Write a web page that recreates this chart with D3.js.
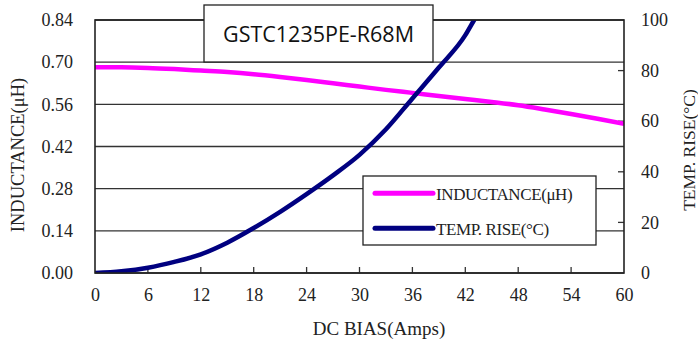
<!DOCTYPE html>
<html>
<head>
<meta charset="utf-8">
<script src="https://cdn.jsdelivr.net/npm/d3@7/dist/d3.min.js"></script>
<style>
  html, body { margin: 0; padding: 0; background: #fff; }
  svg { display: block; }
</style>
</head>
<body>
<svg id="chart" width="698" height="347"></svg>
<script>
// ---- data ----
const title = "GSTC1235PE-R68M";
const xTicks = [0, 6, 12, 18, 24, 30, 36, 42, 48, 54, 60];
const leftTicks = [0.00, 0.14, 0.28, 0.42, 0.56, 0.70, 0.84];
const rightTicks = [0, 20, 40, 60, 80, 100];
const currentA = [0, 3, 6, 9, 12, 15, 18, 21, 24, 27, 30, 33, 36, 39, 42, 45, 48, 51, 54, 57, 60];
const inductance = [0.683, 0.683, 0.681, 0.677, 0.672, 0.667, 0.660, 0.651, 0.641, 0.630, 0.619, 0.608, 0.598, 0.588, 0.578, 0.568, 0.557, 0.543, 0.528, 0.512, 0.495];
const tempCurrent = [0, 3, 6, 9, 12, 15, 18, 21, 24, 27, 30, 33, 36, 39, 42, 43, 44];
const tempRise = [0, 0.7, 2.1, 4.4, 7.4, 12.0, 17.8, 24.2, 31.2, 38.6, 46.7, 56.8, 69.0, 81.2, 94.0, 100, 106];
const seriesNames = ["INDUCTANCE(\u03bcH)", "TEMP. RISE(\u00b0C)"];
const seriesColors = ["#ff00ff", "#000080"];

// ---- layout ----
const L = 95, R = 624, T = 20, B = 273;
const svg = d3.select("#chart");
const x = d3.scaleLinear().domain([0, 60]).range([L, R]);
const yL = d3.scaleLinear().domain([0, 0.84]).range([B, T]);
const yR = d3.scaleLinear().domain([0, 100]).range([B, T]);

const serif = "'Liberation Serif', 'Times New Roman', serif";
const textColor = "#222";

// gridlines
svg.append("g").selectAll("line").data(leftTicks).join("line")
  .attr("x1", L).attr("x2", R)
  .attr("y1", d => yL(d)).attr("y2", d => yL(d))
  .attr("stroke", "#333").attr("stroke-width", 1.3);

// bottom inward ticks
svg.append("g").selectAll("line").data(xTicks.slice(1, -1)).join("line")
  .attr("x1", d => x(d)).attr("x2", d => x(d))
  .attr("y1", B).attr("y2", B - 6)
  .attr("stroke", "#333").attr("stroke-width", 1.3);

// right inward ticks
svg.append("g").selectAll("line").data(rightTicks.slice(1, -1)).join("line")
  .attr("x1", R).attr("x2", R - 6)
  .attr("y1", d => yR(d)).attr("y2", d => yR(d))
  .attr("stroke", "#333").attr("stroke-width", 1.3);

// clip
svg.append("clipPath").attr("id", "plotClip").append("rect")
  .attr("x", L).attr("y", T).attr("width", R - L).attr("height", B - T);

const plot = svg.append("g").attr("clip-path", "url(#plotClip)");

const indLine = d3.line().x((d, i) => x(currentA[i])).y(d => yL(d)).curve(d3.curveMonotoneX);
const tempLine = d3.line().x((d, i) => x(tempCurrent[i])).y(d => yR(d)).curve(d3.curveMonotoneX);

plot.append("path").attr("d", indLine(inductance))
  .attr("fill", "none").attr("stroke", seriesColors[0]).attr("stroke-width", 4.5);
plot.append("path").attr("d", tempLine(tempRise))
  .attr("fill", "none").attr("stroke", seriesColors[1]).attr("stroke-width", 4.5);

// frame
svg.append("rect").attr("x", L).attr("y", T).attr("width", R - L).attr("height", B - T)
  .attr("fill", "none").attr("stroke", "#222").attr("stroke-width", 1.6);

// axes labels via d3 axes
const axL = svg.append("g").attr("transform", `translate(${L},0)`)
  .call(d3.axisLeft(yL).tickValues(leftTicks).tickFormat(d3.format(".2f")).tickSize(0).tickPadding(22));
const axB = svg.append("g").attr("transform", `translate(0,${B})`)
  .call(d3.axisBottom(x).tickValues(xTicks).tickFormat(d3.format("d")).tickSize(0).tickPadding(15));
const axR = svg.append("g").attr("transform", `translate(${R},0)`)
  .call(d3.axisRight(yR).tickValues(rightTicks).tickFormat(d3.format("d")).tickSize(0).tickPadding(17));
[axL, axB, axR].forEach(a => {
  a.select(".domain").remove();
  a.selectAll("text").attr("font-family", serif).attr("font-size", 18).attr("fill", textColor);
});

// axis titles
svg.append("text").attr("x", 379).attr("y", 335).attr("text-anchor", "middle")
  .attr("font-family", serif).attr("font-size", 19).attr("fill", textColor)
  .text("DC BIAS(Amps)");
svg.append("text").attr("transform", "translate(24,155) rotate(-90)").attr("text-anchor", "middle")
  .attr("font-family", serif).attr("font-size", 18.5).attr("fill", textColor)
  .text(seriesNames[0]);
svg.append("text").attr("transform", "translate(695,150) rotate(-90)").attr("text-anchor", "middle")
  .attr("font-family", serif).attr("font-size", 17.5).attr("fill", textColor)
  .text(seriesNames[1]);

// title box
svg.append("rect").attr("x", 204).attr("y", 5).attr("width", 229).attr("height", 57)
  .attr("fill", "#fff").attr("stroke", "#222").attr("stroke-width", 1.3);
svg.append("text").attr("x", 318.5).attr("y", 42).attr("text-anchor", "middle")
  .attr("font-family", "'Open Sans', sans-serif").attr("font-size", 21.5).attr("fill", "#111")
  .text(title);

// legend
const lg = svg.append("g");
lg.append("rect").attr("x", 363).attr("y", 176).attr("width", 233).attr("height", 69)
  .attr("fill", "#fff").attr("stroke", "#222").attr("stroke-width", 1.3);
const legendY = [193.3, 228.3];
seriesNames.forEach((name, i) => {
  lg.append("line").attr("x1", 375).attr("x2", 433).attr("y1", legendY[i]).attr("y2", legendY[i])
    .attr("stroke", seriesColors[i]).attr("stroke-width", 5).attr("stroke-linecap", "round");
  lg.append("text").attr("x", 436).attr("y", legendY[i] + 6.5)
    .attr("font-family", serif).attr("font-size", 17).attr("fill", textColor)
    .attr("letter-spacing", -0.4)
    .text(name);
});
</script>
</body>
</html>
